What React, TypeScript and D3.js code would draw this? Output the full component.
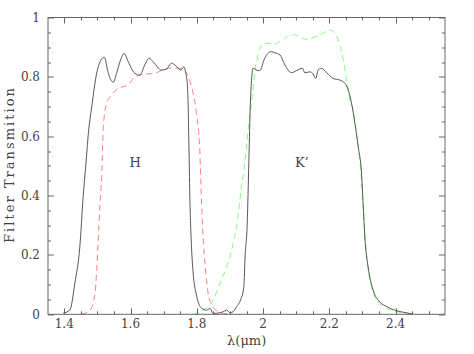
import { useEffect, useRef } from 'react';
import * as d3 from 'd3';

const W = 474;
const H = 354;
const MARGIN = { top: 17.5, right: 29, bottom: 39.7, left: 48 };

// Filter curves (wavelength in microns, transmission 0..1)
const measuredLam = [
  1.397, 1.417, 1.432, 1.447, 1.457, 1.468, 1.472, 1.483, 1.498, 1.511, 1.521, 1.533, 1.548, 1.558,
  1.570, 1.581, 1.593, 1.613, 1.628, 1.643, 1.656, 1.668, 1.694, 1.707, 1.724, 1.734, 1.752, 1.761,
  1.767, 1.772, 1.774, 1.776, 1.779, 1.784, 1.789, 1.799, 1.814, 1.830, 1.840, 1.849, 1.870, 1.880,
  1.890, 1.900, 1.910, 1.920, 1.932, 1.942, 1.946, 1.952, 1.955, 1.958, 1.962, 1.970, 1.980, 1.990,
  2.005, 2.023, 2.036, 2.051, 2.066, 2.086, 2.101, 2.119, 2.126, 2.141, 2.151, 2.159, 2.166, 2.176,
  2.192, 2.211, 2.232, 2.247, 2.257, 2.267, 2.277, 2.287, 2.297, 2.302, 2.307, 2.317, 2.332, 2.352,
  2.373, 2.403, 2.433, 2.451,
];
const measuredT = [
  0.004, 0.014, 0.105, 0.227, 0.395, 0.543, 0.600, 0.699, 0.813, 0.857, 0.866, 0.812, 0.782, 0.812,
  0.857, 0.879, 0.851, 0.812, 0.806, 0.840, 0.863, 0.851, 0.823, 0.825, 0.846, 0.840, 0.823, 0.834,
  0.812, 0.767, 0.699, 0.587, 0.396, 0.228, 0.139, 0.065, 0.021, 0.014, 0.020, 0.003, 0.005, 0.009,
  0.014, 0.005, 0.009, 0.026, 0.048, 0.093, 0.200, 0.300, 0.420, 0.554, 0.722, 0.829, 0.823, 0.821,
  0.863, 0.885, 0.881, 0.874, 0.840, 0.814, 0.821, 0.829, 0.814, 0.817, 0.810, 0.795, 0.823, 0.829,
  0.814, 0.795, 0.789, 0.778, 0.756, 0.711, 0.644, 0.565, 0.476, 0.370, 0.261, 0.160, 0.082, 0.042,
  0.026, 0.012, 0.005, 0.001,
];

const hLam = [
  1.452, 1.478, 1.493, 1.498, 1.503, 1.508, 1.513, 1.518, 1.528, 1.543, 1.563, 1.593, 1.608, 1.628,
  1.678, 1.703, 1.728, 1.759, 1.774, 1.789, 1.799, 1.809, 1.812, 1.818, 1.826, 1.834, 1.846, 1.860,
  1.880, 1.905,
];
const hT = [
  0.000, 0.014, 0.072, 0.149, 0.261, 0.375, 0.464, 0.632, 0.711, 0.739, 0.761, 0.773, 0.795, 0.806,
  0.814, 0.826, 0.830, 0.826, 0.800, 0.745, 0.677, 0.554, 0.450, 0.280, 0.155, 0.072, 0.030, 0.012,
  0.003, 0.000,
];

const kLam = [
  1.789, 1.819, 1.849, 1.870, 1.890, 1.903, 1.910, 1.920, 1.935, 1.942, 1.956, 1.966, 1.976, 1.986,
  1.996, 2.011, 2.032, 2.058, 2.088, 2.113, 2.133, 2.153, 2.181, 2.201, 2.217, 2.230, 2.242, 2.252,
  2.262, 2.272, 2.282, 2.292, 2.302, 2.312, 2.327, 2.347, 2.373, 2.403, 2.448,
];
const kT = [
  0.000, 0.014, 0.048, 0.104, 0.160, 0.206, 0.239, 0.295, 0.430, 0.482, 0.632, 0.722, 0.823, 0.879,
  0.907, 0.913, 0.910, 0.924, 0.943, 0.933, 0.926, 0.933, 0.947, 0.958, 0.947, 0.913, 0.857, 0.790,
  0.722, 0.688, 0.610, 0.520, 0.375, 0.205, 0.093, 0.042, 0.020, 0.009, 0.000,
];

const xTicks = [1.4, 1.6, 1.8, 2, 2.2, 2.4];
const yTicks = [0, 0.2, 0.4, 0.6, 0.8, 1];
const bandLabels = [
  { text: 'H', lam: 1.614, t: 0.51 },
  { text: 'K\u2019', lam: 2.117, t: 0.51 },
];

const AXIS = '#666';
const TEXT = '#444';
const FONT = '"DejaVu Serif", serif';

export default function App() {
  const svgRef = useRef<SVGSVGElement>(null);

  useEffect(() => {
    const svg = d3.select(svgRef.current);
    svg.selectAll('*').remove();

    const innerW = W - MARGIN.left - MARGIN.right;
    const innerH = H - MARGIN.top - MARGIN.bottom;
    const x = d3.scaleLinear().domain([1.351, 2.549]).range([0, innerW]);
    const y = d3.scaleLinear().domain([0, 1]).range([innerH, 0]);

    const g = svg.append('g').attr('transform', `translate(${MARGIN.left},${MARGIN.top})`);

    const line = d3.line<[number, number]>().x(d => x(d[0])).y(d => y(d[1])).curve(d3.curveMonotoneX);

    // curves
    g.append('path')
      .datum(hLam.map((l, i) => [l, hT[i]] as [number, number]))
      .attr('d', line).attr('fill', 'none')
      .attr('stroke', '#ff8080').attr('stroke-width', 1).attr('stroke-dasharray', '6,4');
    g.append('path')
      .datum(kLam.map((l, i) => [l, kT[i]] as [number, number]))
      .attr('d', line).attr('fill', 'none')
      .attr('stroke', '#80ff80').attr('stroke-width', 1).attr('stroke-dasharray', '6,4');
    g.append('path')
      .datum(measuredLam.map((l, i) => [l, measuredT[i]] as [number, number]))
      .attr('d', line).attr('fill', 'none')
      .attr('stroke', '#444').attr('stroke-width', 0.9);

    // frame
    g.append('rect').attr('width', innerW).attr('height', innerH)
      .attr('fill', 'none').attr('stroke', AXIS).attr('stroke-width', 1);

    // ticks, inward on all four sides
    const xMinor = d3.range(1.4, 2.55, 0.05).map(v => +v.toFixed(2));
    const yMinor = d3.range(0, 1.001, 0.05).map(v => +v.toFixed(2));
    const isMajor = (v: number, list: number[]) => list.some(t => Math.abs(t - v) < 1e-6);

    const ticks = g.append('g').attr('stroke', AXIS).attr('stroke-width', 1);
    xMinor.forEach(v => {
      const len = isMajor(v, xTicks) ? 6 : 3;
      const px = Math.round(x(v)) + 0.5;
      ticks.append('line').attr('x1', px).attr('x2', px).attr('y1', innerH).attr('y2', innerH - len);
      ticks.append('line').attr('x1', px).attr('x2', px).attr('y1', 0).attr('y2', len);
    });
    yMinor.forEach(v => {
      const len = isMajor(v, yTicks) ? 6 : 3;
      const py = Math.round(y(v)) + 0.5;
      ticks.append('line').attr('x1', 0).attr('x2', len).attr('y1', py).attr('y2', py);
      ticks.append('line').attr('x1', innerW).attr('x2', innerW - len).attr('y1', py).attr('y2', py);
    });

    // tick labels
    g.append('g').selectAll('text').data(xTicks).join('text')
      .attr('x', d => x(d)).attr('y', innerH + 14)
      .attr('text-anchor', 'middle')
      .attr('font-family', FONT).attr('font-size', 12).attr('fill', TEXT)
      .text(d => String(d));
    g.append('g').selectAll('text').data(yTicks).join('text')
      .attr('x', -8).attr('y', d => y(d) + 4.5)
      .attr('text-anchor', 'end')
      .attr('font-family', FONT).attr('font-size', 12).attr('fill', TEXT)
      .text(d => String(d));

    // band labels
    g.append('g').selectAll('text').data(bandLabels).join('text')
      .attr('x', d => x(d.lam)).attr('y', d => y(d.t) + 4.5)
      .attr('text-anchor', 'middle')
      .attr('font-family', FONT).attr('font-size', 13).attr('fill', TEXT)
      .text(d => d.text);

    // axis titles
    svg.append('text')
      .attr('x', 246.7).attr('y', 345)
      .attr('text-anchor', 'middle')
      .attr('font-family', FONT).attr('font-size', 13).attr('fill', TEXT)
      .text('\u03bb(\u03bcm)');
    svg.append('text')
      .attr('transform', 'translate(14,165.5) rotate(-90)')
      .attr('text-anchor', 'middle')
      .attr('font-family', FONT).attr('font-size', 13).attr('fill', TEXT)
      .attr('textLength', 155).attr('lengthAdjust', 'spacing')
      .text('Filter Transmition');
  }, []);

  return (
    <svg
      ref={svgRef}
      width={W}
      height={H}
      style={{ position: 'absolute', left: 0, top: 0, background: '#fff' }}
    />
  );
}
